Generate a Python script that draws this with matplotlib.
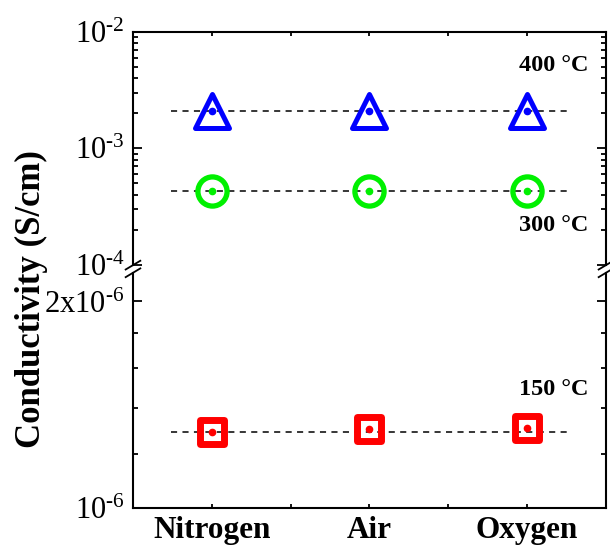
import matplotlib
matplotlib.use("Agg")
import matplotlib.pyplot as plt
from matplotlib.ticker import NullFormatter, FixedLocator
from matplotlib.markers import MarkerStyle

# ---- data ----
categories = ["Nitrogen", "Air", "Oxygen"]
temps = ["150 \u00b0C", "300 \u00b0C", "400 \u00b0C"]
cond_150 = [1.292e-6, 1.303e-6, 1.306e-6]
cond_300 = [4.30e-4, 4.30e-4, 4.30e-4]
cond_400 = [2.10e-3, 2.10e-3, 2.10e-3]
ref_150 = 1.292e-6
ref_300 = 4.30e-4
ref_400 = 2.10e-3

plt.rcParams['font.family'] = ['Liberation Serif', 'DejaVu Serif']
plt.rcParams['mathtext.fontset'] = 'custom'
plt.rcParams['mathtext.rm'] = 'Liberation Serif'
plt.rcParams['mathtext.default'] = 'regular'

fig = plt.figure(figsize=(6.1, 5.46), dpi=100)
left, width = 0.218, 0.7754
ax_top = fig.add_axes([left, 0.5147, width, 0.4273])
ax_bot = fig.add_axes([left, 0.0696, width, 0.4304])

x = list(range(1, len(categories) + 1))

for ax in (ax_top, ax_bot):
    ax.set_yscale('log')
    ax.set_xlim(0.5, 3.5)
    for s in ax.spines.values():
        s.set_linewidth(1.5)
    ax.tick_params(axis='both', which='both', direction='in', right=True, top=True,
                   width=1.3, labelsize=22, pad=6)
    ax.tick_params(axis='y', which='major', length=6.5)
    ax.tick_params(axis='y', which='minor', length=3.5)
    ax.tick_params(axis='x', which='both', length=3)
    ax.xaxis.set_minor_locator(FixedLocator([1.5, 2.5]))

ax_top.spines['bottom'].set_visible(False)
ax_bot.spines['top'].set_visible(False)
ax_top.tick_params(axis='x', which='both', bottom=False, labelbottom=False)
ax_bot.tick_params(axis='x', which='both', top=False)

ax_top.set_ylim(1e-4, 1e-2)
ax_top.set_yticks([1e-4, 1e-3, 1e-2])
ax_top.set_yticklabels([r'$10^{\text{-}4}$', r'$10^{\text{-}3}$', r'$10^{\text{-}2}$'])
ax_top.yaxis.set_minor_locator(FixedLocator([k * 1e-4 for k in range(2, 10)] + [k * 1e-3 for k in range(2, 10)]))
ax_top.yaxis.set_minor_formatter(NullFormatter())

ax_bot.set_ylim(1e-6, 2.2e-6)
ax_bot.set_yticks([1e-6, 2e-6])
ax_bot.set_yticklabels([r'$10^{\text{-}6}$', r'$2x10^{\text{-}6}$'])
ax_bot.yaxis.set_minor_locator(FixedLocator([1.2e-6, 1.4e-6, 1.6e-6, 1.8e-6]))
ax_bot.yaxis.set_minor_formatter(NullFormatter())

ax_bot.set_xticks(x)
ax_bot.set_xticklabels(categories, fontsize=22.5, fontweight='bold')
ax_top.set_xticks(x)

dash = (0, (4, 3.5))
# reference dashed lines
ax_top.plot([0.74, 3.27], [ref_400, ref_400], color='black', lw=1.1, ls=dash, zorder=1)
ax_top.plot([0.74, 3.27], [ref_300, ref_300], color='black', lw=1.1, ls=dash, zorder=1)
ax_bot.plot([0.74, 3.27], [ref_150, ref_150], color='black', lw=1.1, ls=dash, zorder=1)

tri = MarkerStyle('^', joinstyle='round')
sq = MarkerStyle('s', joinstyle='round')

# markers
ax_top.plot(x, cond_400, ls='none', marker=tri, ms=24, mfc='none', mec='#0000ff',
            mew=3.6, zorder=3)
ax_top.plot(x, cond_400, ls='none', marker='o', ms=4.5, color='#0000ff', zorder=4)
ax_top.plot(x, cond_300, ls='none', marker='o', ms=21, mfc='none', mec='#00f000',
            mew=3.8, zorder=3)
ax_top.plot(x, cond_300, ls='none', marker='o', ms=4.5, color='#00f000', zorder=4)
ax_bot.plot(x, cond_150, ls='none', marker=sq, ms=17.5, mfc='none', mec='#ff0000',
            mew=5, zorder=3)
ax_bot.plot(x, cond_150, ls='none', marker='o', ms=4.5, color='#ff0000', zorder=4)

# temperature labels
ax_top.text(3.17, 5.1e-3, temps[2], fontsize=17.5, fontweight='bold', ha='center', va='center')
ax_top.text(3.17, 2.16e-4, temps[1], fontsize=17.5, fontweight='bold', ha='center', va='center')
ax_bot.text(3.17, 1.49e-6, temps[0], fontsize=17.5, fontweight='bold', ha='center', va='center')

# break marks
for xa in (0.0, 1.0):
    for dy in (-0.007, 0.007):
        fig.add_artist(plt.Line2D([left + width * xa - 0.012, left + width * xa + 0.012],
                                  [0.5074 + dy - 0.008, 0.5074 + dy + 0.008],
                                  transform=fig.transFigure, color='black', lw=1.3))

fig.text(0.052, 0.452, 'Conductivity (S/cm)', rotation=90, fontsize=25, fontweight='bold',
         ha='center', va='center')

fig.savefig('out.png', dpi=100)
